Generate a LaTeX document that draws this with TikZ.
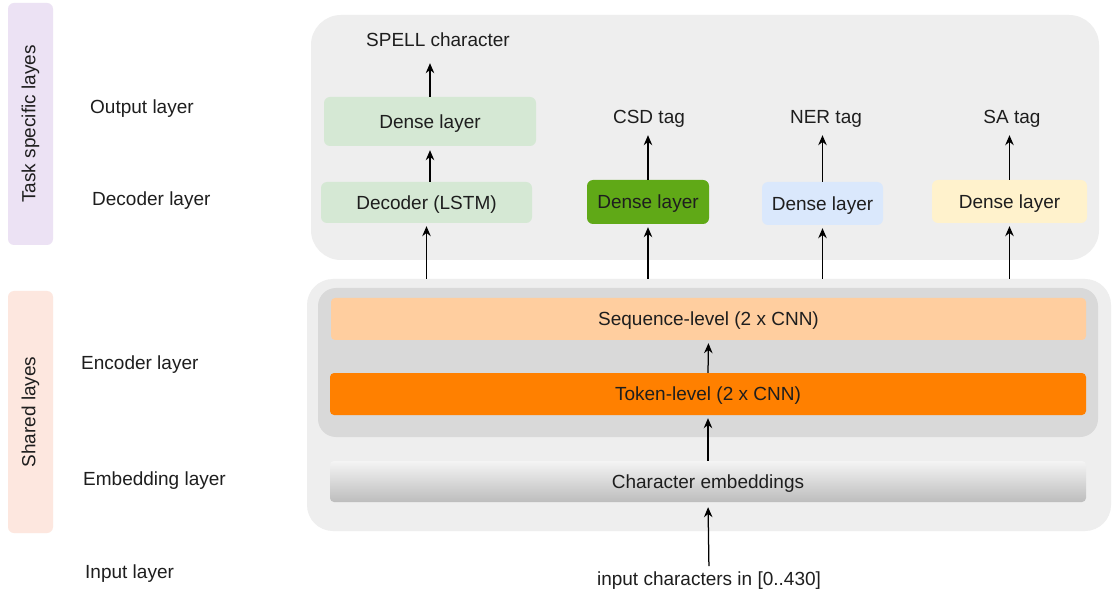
\documentclass[tikz,border=0pt]{standalone}
\usepackage{fontspec}
\setmainfont{Liberation Sans}
\usetikzlibrary{arrows.meta,calc}
\definecolor{txt}{HTML}{1E1E1E}
\definecolor{bggray}{HTML}{EEEEEE}
\definecolor{encgray}{HTML}{D9D9D9}
\definecolor{lpurple}{HTML}{ECE2F4}
\definecolor{lpeach}{HTML}{FDE7DF}
\definecolor{lgreen}{HTML}{D5E8D4}
\definecolor{dgreen}{HTML}{60A917}
\definecolor{lblue}{HTML}{DAE8FC}
\definecolor{lyellow}{HTML}{FFF2CC}
\definecolor{lorange}{HTML}{FFCE9F}
\definecolor{dorange}{HTML}{FF8000}
\definecolor{embtop}{HTML}{F4F4F4}
\definecolor{embbot}{HTML}{BDBDBD}
\begin{document}
\begin{tikzpicture}[x=1pt,y=-1pt,
  every node/.style={font=\fontsize{19}{22}\selectfont, text=txt},
  panel/.style={draw=none, inner sep=0pt},
  box/.style={draw=none, rounded corners=6pt, inner sep=0pt, text height=13.6pt, text depth=0pt},
  lbl/.style={inner sep=0pt, text height=13.6pt, text depth=4pt, anchor=base},
  side/.style={inner sep=0pt, anchor=base west},
  arr/.style={-{Stealth[length=10pt,width=8.5pt]}, line width=1.25pt, draw=black}
]
\useasboundingbox (0,0) rectangle (1113,593);
\fill[white] (0,0) rectangle (1113,593);

% side panels
\node[panel, fill=lpurple, rounded corners=6pt, minimum width=45pt, minimum height=242pt] (taskp) at (30.5,124) {};
\node[rotate=90] (tasklbl) at (taskp.center) {Task specific layes};
\node[panel, fill=lpeach, rounded corners=6pt, minimum width=45pt, minimum height=242pt] (sharedp) at (30.5,412) {};
\node[rotate=90] (sharedlbl) at (sharedp.center) {Shared layes};

% layer labels
\node[side] (outl) at (90,114) {Output layer};
\node[side] (decl) at (92,206) {Decoder layer};
\node[side] (encl) at (81,369) {Encoder layer};
\node[side] (embl) at (83,485) {Embedding layer};
\node[side] (inl) at (85,578) {Input layer};

% background panels
\node[panel, fill=bggray, rounded corners=30pt, minimum width=788pt, minimum height=245pt] (top) at (705,137.5) {};
\node[panel, fill=bggray, rounded corners=26pt, minimum width=804pt, minimum height=252pt] (shared) at (709,405) {};
\node[panel, fill=encgray, rounded corners=18pt, minimum width=780pt, minimum height=149pt] (enc) at (708,362.5) {};

% shared boxes
\node[box, fill=lorange, rounded corners=4pt, minimum width=755pt, minimum height=42pt] (seq) at (708.5,319) {Sequence-level (2 x CNN)};
\node[box, fill=dorange, rounded corners=4pt, minimum width=756pt, minimum height=42pt] (tok) at (708,394) {Token-level (2 x CNN)};
\node[box, top color=embtop, bottom color=embbot, rounded corners=4pt, minimum width=756pt, minimum height=41pt] (emb) at (708,481.5) {Character embeddings};
\node[lbl] (inp) at (709,585) {input characters in [0..430]};

% task boxes
\node[box, fill=lgreen, minimum width=212pt, minimum height=49pt] (sdense) at (430,121.5) {Dense layer};
\node[box, fill=lgreen, minimum width=211pt, minimum height=41pt] (dec) at (426.5,202.5) {Decoder (LSTM)};
\node[box, fill=dgreen, minimum width=122pt, minimum height=44pt] (csd) at (648,202) {Dense layer};
\node[box, fill=lblue, minimum width=121pt, minimum height=43pt] (ner) at (822.5,203.5) {Dense layer};
\node[box, fill=lyellow, minimum width=155pt, minimum height=43pt] (sa) at (1009.5,201.5) {Dense layer};

% output labels
\node[lbl] (spell) at (438,47) {SPELL character};
\node[lbl] (csdt) at (649,124) {CSD tag};
\node[lbl] (nert) at (826,124) {NER tag};
\node[lbl] (sat) at (1012,124) {SA tag};

% arrows
\draw[arr, shorten >=12pt] (sdense.north) -- (sdense.north |- spell.south);
\draw[arr, shorten >=4pt] (dec.north -| sdense.south) -- (sdense.south);
\draw[arr, shorten >=3pt] (dec.south |- shared.north) -- (dec.south);
\draw[arr, shorten >=7pt] (csd.north) -- (csd.north |- csdt.south);
\draw[arr, shorten >=3pt] (csd.south |- shared.north) -- (csd.south);
\draw[arr, shorten >=7pt] (ner.north) -- (ner.north |- nert.south);
\draw[arr, shorten >=3pt] (ner.south |- shared.north) -- (ner.south);
\draw[arr, shorten >=7pt] (sa.north) -- (sa.north |- sat.south);
\draw[arr, shorten >=3pt] (sa.south |- shared.north) -- (sa.south);

\draw[arr, shorten >=3pt] (tok.north) -- (seq.south);
\draw[arr, shorten >=3pt] (emb.north) -- (tok.south);
\draw[arr, shorten <=5pt, shorten >=5pt] (inp.north) -- (emb.south);
\end{tikzpicture}
\end{document}
